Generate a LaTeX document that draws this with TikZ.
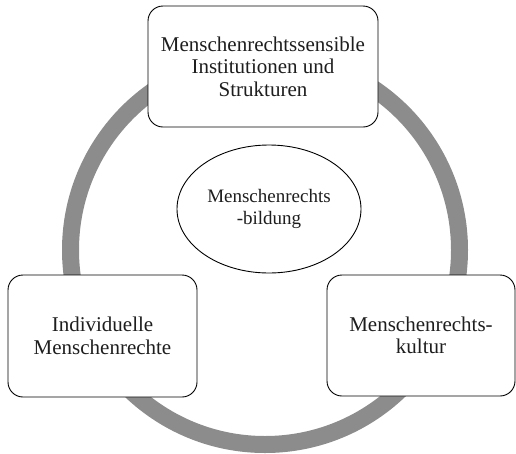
\documentclass[tikz,border=0pt]{standalone}
\usepackage{fontspec}
\setmainfont{Liberation Serif}
\usetikzlibrary{shapes.geometric}
\definecolor{ringgray}{RGB}{140,140,140}
\definecolor{txt}{RGB}{30,30,30}
\begin{document}
\begin{tikzpicture}[x=1pt,y=-1pt,
  boxnode/.style={draw=black, line width=0.9pt, fill=white, rounded corners=15pt,
    align=center, text=txt, inner sep=0pt,
    font=\fontsize{21}{22.5}\selectfont},
  ellnode/.style={draw=black, line width=0.9pt, fill=white, ellipse, inner sep=0pt,
    align=center, text=txt, font=\fontsize{19}{21.5}\selectfont}]
\useasboundingbox (0,0) rectangle (516,453);
\coordinate (c) at (265,250);
\draw[ringgray, line width=17pt] (c) circle[radius=194.5pt];
\node[boxnode, minimum width=230pt, minimum height=121pt] (top) at (263,66.5)
  {Menschenrechtssensible\\Institutionen und\\Strukturen};
\node[boxnode, minimum width=189pt, minimum height=122pt] (left) at (102.5,336)
  {Individuelle\\Menschenrechte};
\node[boxnode, minimum width=188pt, minimum height=121pt] (right) at (421,335.5)
  {Menschenrechts-\\kultur};
\node[ellnode, minimum width=184pt, minimum height=128pt] (mid) at (269,209)
  {Menschenrechts\\-bildung};
\end{tikzpicture}
\end{document}
